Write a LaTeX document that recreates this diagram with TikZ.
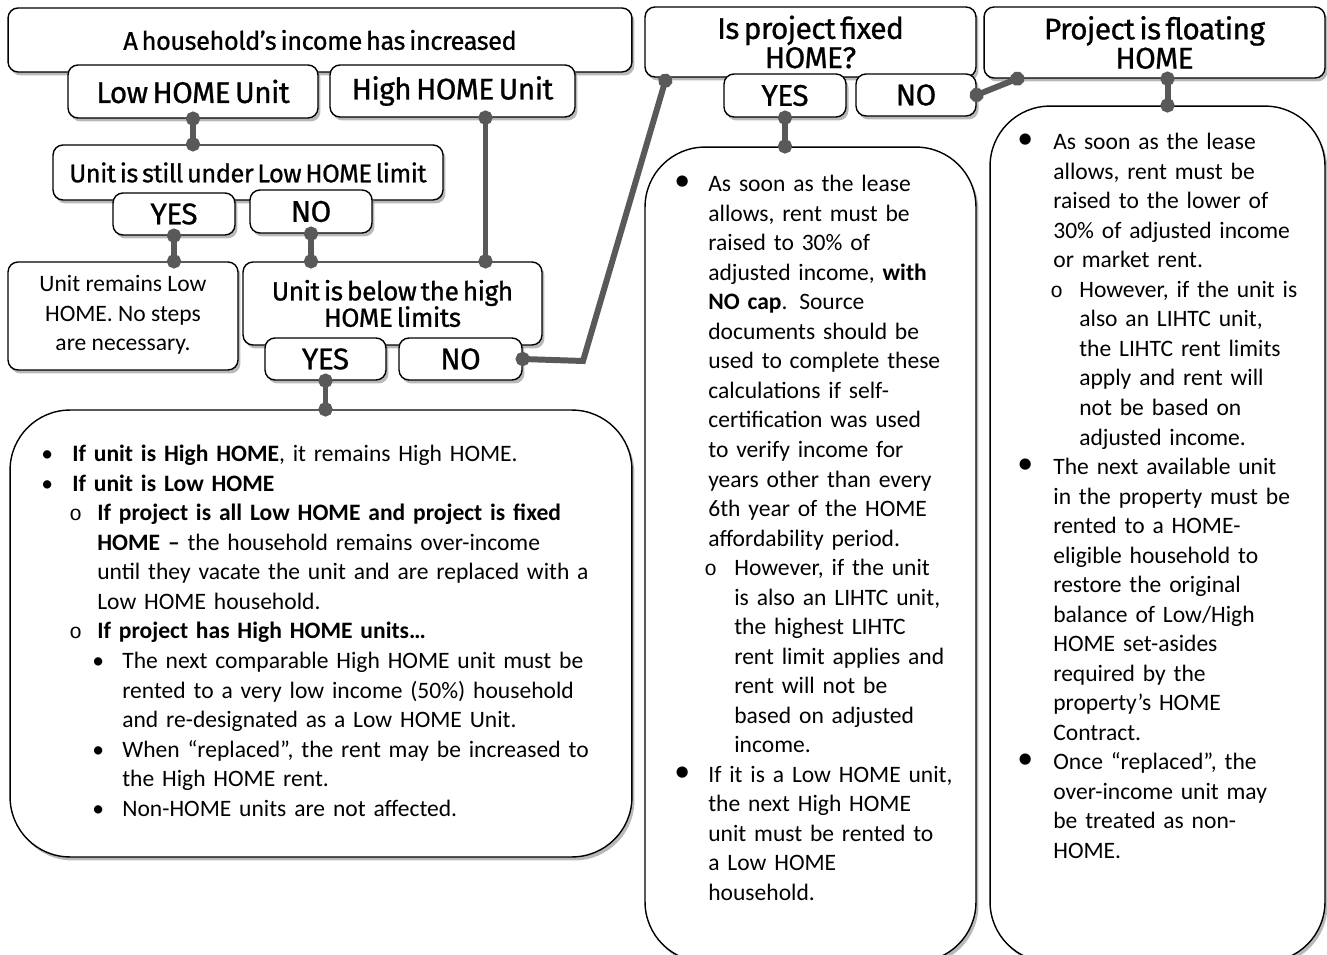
\documentclass[tikz,border=0pt]{standalone}
\usepackage{fontspec}
\setmainfont{Carlito}
\newfontfamily\headfont{Fira Sans}[LetterSpace=-2.0,WordSpace=0.6,FakeBold=0.8]
\newfontfamily\ringfont{Liberation Mono}
\usepackage{tikz}
\usetikzlibrary{arrows.meta,shadows,calc}

\definecolor{linkgray}{HTML}{595959}
\newcommand{\bodyfont}{\fontsize{13.4}{16.8}\selectfont}
\newcommand{\bigdot}{\raisebox{0.1ex}{\scalebox{1.35}{\textbullet}}}
\newcommand{\smalldot}{\textbullet}
\newcommand{\ringdot}{{\ringfont\fontsize{12}{12}\selectfont o}}

% plain list: label, left margin, label width
\newenvironment{blist}[3]{%
  \list{#1}{\setlength\leftmargin{#2}\setlength\labelwidth{#3}%
    \setlength\labelsep{0pt}\setlength\itemsep{0pt}\setlength\parsep{0pt}%
    \setlength\topsep{0pt}\setlength\partopsep{0pt}\setlength\itemindent{0pt}%
    \setlength\listparindent{0pt}\setlength\rightmargin{0pt}%
    \renewcommand\makelabel[1]{##1\hfil}}\raggedright}{\endlist}

\tikzset{
  sbox/.style={draw=black, line width=0.8pt, rounded corners=0.2cm, fill=white,
    drop shadow={opacity=0.55, shadow xshift=0.05cm, shadow yshift=-0.07cm},
    align=center, inner sep=0pt},
  head/.style={sbox, font=\headfont\fontsize{14.5}{17}\selectfont},
  bighead/.style={sbox, font=\headfont\fontsize{17}{16.6}\selectfont},
  note/.style={sbox, font=\bodyfont},
  big/.style={sbox, rounded corners=1.2cm},
  link/.style={draw=linkgray, line width=3.4pt, {Circle[length=8pt]}-{Circle[length=8pt]},
    shorten <=-4pt, shorten >=-4pt},
  listtext/.style={anchor=north west, inner sep=0pt, text width=#1, font=\bodyfont, align=left}
}

\begin{document}
\begin{tikzpicture}[x=0.02cm, y=-0.02cm]
\useasboundingbox (0,0) rectangle (1327,955);

% left column
\node[head, minimum width=12.48cm, minimum height=1.28cm] (income) at (320,40) {A household’s income has increased};
\node[bighead, minimum width=5cm, minimum height=1.06cm] (lowunit) at (193,91.5) {Low HOME Unit};
\node[bighead, minimum width=4.9cm, minimum height=1.04cm] (highunit) at (452.5,91) {High HOME Unit};
\node[head, minimum width=7.8cm, minimum height=1.1cm] (still) at (248,172.5) {Unit is still under Low HOME limit};
\node[bighead, minimum width=2.44cm, minimum height=0.84cm] (stillyes) at (174,214) {YES};
\node[bighead, minimum width=2.44cm, minimum height=0.86cm] (stillno) at (311,211.5) {NO};
\node[note, minimum width=4.6cm, minimum height=2.16cm, text depth=0.12cm] (remains) at (123,316) {Unit remains Low\\HOME. No steps\\are necessary.};
\node[head, minimum width=5.98cm, minimum height=1.66cm, font=\headfont\fontsize{15}{15}\selectfont] (below) at (392.5,303.5) {Unit is below the high\\HOME limits};
\node[bighead, minimum width=2.42cm, minimum height=0.84cm] (belowyes) at (325.5,359) {YES};
\node[bighead, minimum width=2.46cm, minimum height=0.84cm] (belowno) at (460.5,359) {NO};
\node[big, minimum width=12.44cm, minimum height=8.94cm] (leftbig) at (321,633.5) {};

% middle and right columns
\node[bighead, minimum width=6.62cm, minimum height=1.4cm] (fixed) at (810.5,42) {Is project fixed\\HOME?};
\node[bighead, minimum width=2.44cm, minimum height=0.86cm] (fixedyes) at (785,95.5) {YES};
\node[bighead, minimum width=2.4cm, minimum height=0.84cm] (fixedno) at (916,95) {NO};
\node[bighead, minimum width=6.82cm, minimum height=1.42cm] (floating) at (1154.5,42.5) {Project is floating\\HOME};
\node[big, minimum width=6.62cm, minimum height=16.3cm] (midbig) at (810.5,554.5) {};
\node[big, minimum width=6.7cm, minimum height=17.12cm] (rightbig) at (1157.5,534) {};

% texts of the big boxes
\node[listtext=11.6cm] (leftlist) at (41,432) {%
\begin{blist}{\smalldot}{0.62cm}{0.62cm}
\item \textbf{If unit is High HOME}, it remains High HOME.
\item \textbf{If unit is Low HOME}
  \begin{blist}{\ringdot}{0.5cm}{0.56cm}
  \item \textbf{If project is all Low HOME and project is fixed}\newline
    \textbf{HOME –} the household remains over-income\newline
    until they vacate the unit and are replaced with a\newline
    Low HOME household.
  \item \textbf{If project has High HOME units…}
    \begin{blist}{\smalldot}{0.5cm}{0.6cm}
    \item The next comparable High HOME unit must be\newline
      rented to a very low income (50\%) household\newline
      and re-designated as a Low HOME Unit.
    \item When “replaced”, the rent may be increased to\newline
      the High HOME rent.
    \item Non-HOME units are not affected.
    \end{blist}
  \end{blist}
\end{blist}};

\node[listtext=6cm] (midlist) at (674,162) {%
\begin{blist}{\bigdot}{0.68cm}{0.68cm}
\item As soon as the lease\newline
  allows, rent must be\newline
  raised to 30\% of\newline
  adjusted income, \textbf{with}\newline
  \textbf{NO cap}. Source\newline
  documents should be\newline
  used to complete these\newline
  calculations if self-\newline
  certification was used\newline
  to verify income for\newline
  years other than every\newline
  6th year of the HOME\newline
  affordability period.
  \begin{blist}{\ringdot}{0.52cm}{0.6cm}
  \item However, if the unit\newline
    is also an LIHTC unit,\newline
    the highest LIHTC\newline
    rent limit applies and\newline
    rent will not be\newline
    based on adjusted\newline
    income.
  \end{blist}
\item If it is a Low HOME unit,\newline
  the next High HOME\newline
  unit must be rented to\newline
  a Low HOME\newline
  household.
\end{blist}};

\node[listtext=6.1cm] (rightlist) at (1017,120) {%
\begin{blist}{\bigdot}{0.72cm}{0.72cm}
\item As soon as the lease\newline
  allows, rent must be\newline
  raised to the lower of\newline
  30\% of adjusted income\newline
  or market rent.
  \begin{blist}{\ringdot}{0.52cm}{0.58cm}
  \item However, if the unit is\newline
    also an LIHTC unit,\newline
    the LIHTC rent limits\newline
    apply and rent will\newline
    not be based on\newline
    adjusted income.
  \end{blist}
\item The next available unit\newline
  in the property must be\newline
  rented to a HOME-\newline
  eligible household to\newline
  restore the original\newline
  balance of Low/High\newline
  HOME set-asides\newline
  required by the\newline
  property’s HOME\newline
  Contract.
\item Once “replaced”, the\newline
  over-income unit may\newline
  be treated as non-\newline
  HOME.
\end{blist}};

% connectors
\draw[link] (lowunit.south) -- (lowunit.south |- still.north);
\draw[link] (stillyes.south) -- (stillyes.south |- remains.north);
\draw[link] (stillno.south) -- (stillno.south |- below.north);
\draw[link] ([xshift=0.66cm]highunit.south) -- ([xshift=0.66cm]highunit.south |- below.north);
\draw[link] (belowyes.south) -- (belowyes.south |- leftbig.north);
\coordinate (kink) at (583,361);
\draw[link] (belowno.east) -- (kink) -- ([xshift=0.42cm,yshift=-0.06cm]fixed.south west);
\draw[link] (fixedyes.south) -- (fixedyes.south |- midbig.north);
\draw[link] (fixedno.east) -- ([xshift=0.68cm]floating.south west);
\draw[link] ([xshift=0.26cm]floating.south) -- ([xshift=0.26cm]floating.south |- rightbig.north);
\end{tikzpicture}
\end{document}
